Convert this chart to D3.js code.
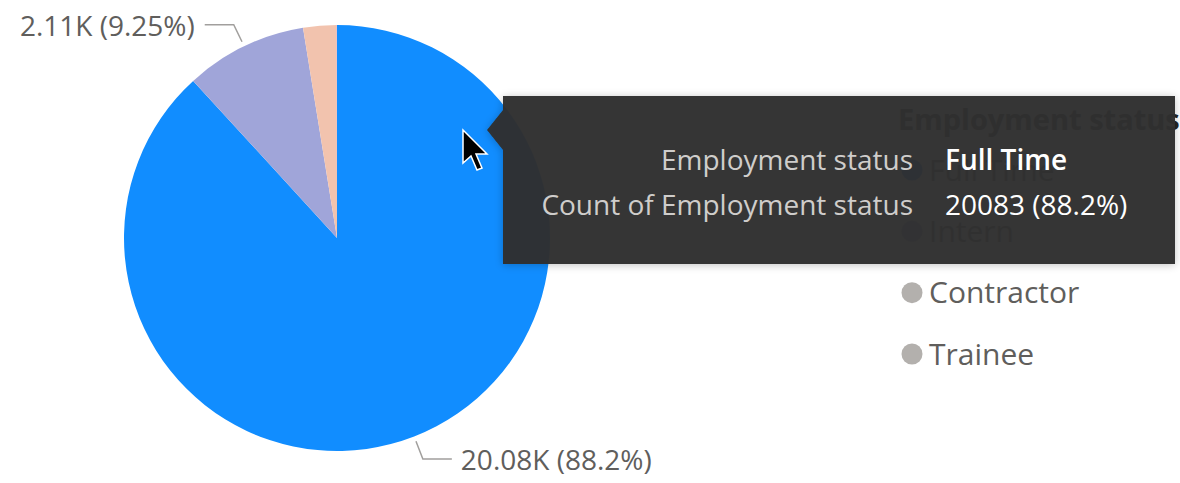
<!DOCTYPE html>
<html><head><meta charset="utf-8">
<script src="https://cdn.jsdelivr.net/npm/d3@7"></script>
<style>
html,body{margin:0;padding:0;background:#fff;}
svg{display:block;font-family:"Segoe UI","Open Sans",sans-serif;}
</style></head>
<body>
<svg id="chart" width="1180" height="483"></svg>
<script>
// Data
const categories = ["Full Time", "Intern", "Contractor", "Trainee"];
const counts = [20083, 2106, 576, 5];
const sliceColors = ["#118DFF", "#A0A5D9", "#F2C3AE", "#C299CA"];
const legendDotColors = ["#118DFF", "#A0A5D9", "#B3B0AD", "#B3B0AD"];
const labelled = ["Full Time", "Intern"];
const legendTitle = "Employment status";
const tooltipLabels = ["Employment status", "Count of Employment status"];
const tooltipValues = ["Full Time", "20083 (88.2%)"];

const svg = d3.select("#chart");
const cx = 337, cy = 238, R = 213;
const total = d3.sum(counts);
const data = categories.map((c, i) => ({cat: c, value: counts[i], color: sliceColors[i]}));

const pie = d3.pie().value(d => d.value).sort(null);
const arcs = pie(data);
const arc = d3.arc().innerRadius(0).outerRadius(R);

const g = svg.append("g").attr("transform", `translate(${cx},${cy})`);
g.selectAll("path.slice").data(arcs).enter().append("path")
  .attr("class", "slice")
  .attr("d", arc)
  .attr("fill", d => d.data.color);

// labels
const fmtPct = v => {
  const p = v / total * 100;
  return (p >= 10 ? p.toFixed(1) : p.toFixed(2)) + "%";
};
arcs.filter(a => labelled.includes(a.data.cat)).forEach(a => {
  const mid = (a.startAngle + a.endAngle) / 2;
  const p0 = [Math.sin(mid) * (R + 5), -Math.cos(mid) * (R + 5)];
  const p1 = [Math.sin(mid) * (R + 24), -Math.cos(mid) * (R + 24)];
  const right = Math.sin(mid) > 0;
  const p2 = [p1[0] + (right ? 29 : -29), p1[1]];
  g.append("polyline")
    .attr("points", [p0, p1, p2].map(p => p.join(",")).join(" "))
    .attr("fill", "none").attr("stroke", "#A19F9D").attr("stroke-width", 1.5);
  const v = a.data.value;
  const txt = (v / 1000).toFixed(2) + "K (" + fmtPct(v) + ")";
  g.append("text")
    .attr("x", p2[0] + (right ? 9 : -10))
    .attr("y", p2[1] + 1)
    .attr("dy", "0.35em")
    .attr("text-anchor", right ? "start" : "end")
    .attr("fill", "#605E5C")
    .attr("font-size", 28)
    .text(txt);
});

// legend
const lg = svg.append("g").attr("transform", "translate(898,0)");
lg.append("text").attr("x", 0).attr("y", 130).attr("font-size", 29).attr("font-weight", "bold")
  .attr("fill", "#252423").text(legendTitle);
const ly = d3.scalePoint().domain(categories).range([170, 354]);
const li = lg.selectAll("g.item").data(categories).enter().append("g").attr("class", "item")
  .attr("transform", d => `translate(0,${ly(d)})`);
li.append("circle").attr("cx", 14).attr("cy", 0).attr("r", 10.5).attr("fill", (d, i) => legendDotColors[i]);
li.append("text").attr("x", 31).attr("y", 0).attr("dy", "0.35em").attr("font-size", 30)
  .attr("fill", "#605E5C").text(d => d);

// tooltip
const defs = svg.append("defs");
const f = defs.append("filter").attr("id", "sh").attr("x", "-10%").attr("y", "-20%").attr("width", "120%").attr("height", "140%");
f.append("feGaussianBlur").attr("in", "SourceAlpha").attr("stdDeviation", 4).attr("result", "b");
f.append("feOffset").attr("in", "b").attr("dx", 0).attr("dy", 1).attr("result", "o");
f.append("feComponentTransfer").attr("in", "o").attr("result", "o2")
  .append("feFuncA").attr("type", "linear").attr("slope", 0.25);
const fm = f.append("feMerge");
fm.append("feMergeNode").attr("in", "o2");
fm.append("feMergeNode").attr("in", "SourceGraphic");

const tt = svg.append("g");
tt.append("path")
  .attr("d", "M503,96 H1175 V264 H503 V150 L487,130 L503,110 Z")
  .attr("fill", "#303030").attr("fill-opacity", 0.965).attr("filter", "url(#sh)");
const tty = d3.scalePoint().domain(tooltipLabels).range([160, 205]);
tt.selectAll("text.lab").data(tooltipLabels).enter().append("text")
  .attr("x", 913).attr("y", d => tty(d)).attr("dy", "0.35em").attr("text-anchor", "end")
  .attr("font-size", 28).attr("fill", "#CFCDCB").text(d => d);
tt.selectAll("text.val").data(tooltipValues).enter().append("text")
  .attr("x", 945).attr("y", (d, i) => tty(tooltipLabels[i])).attr("dy", "0.35em")
  .attr("font-size", 28).attr("fill", "#FFFFFF").attr("font-weight", (d, i) => i === 0 ? 600 : "normal")
  .text(d => d);

// mouse cursor
svg.append("path")
  .attr("d", "M463,130 L463,163 L471,156 L477,170 L482,168 L476,154 L487,154 Z")
  .attr("fill", "#000").attr("stroke", "#fff").attr("stroke-width", 1.5);
</script>
</body></html>
